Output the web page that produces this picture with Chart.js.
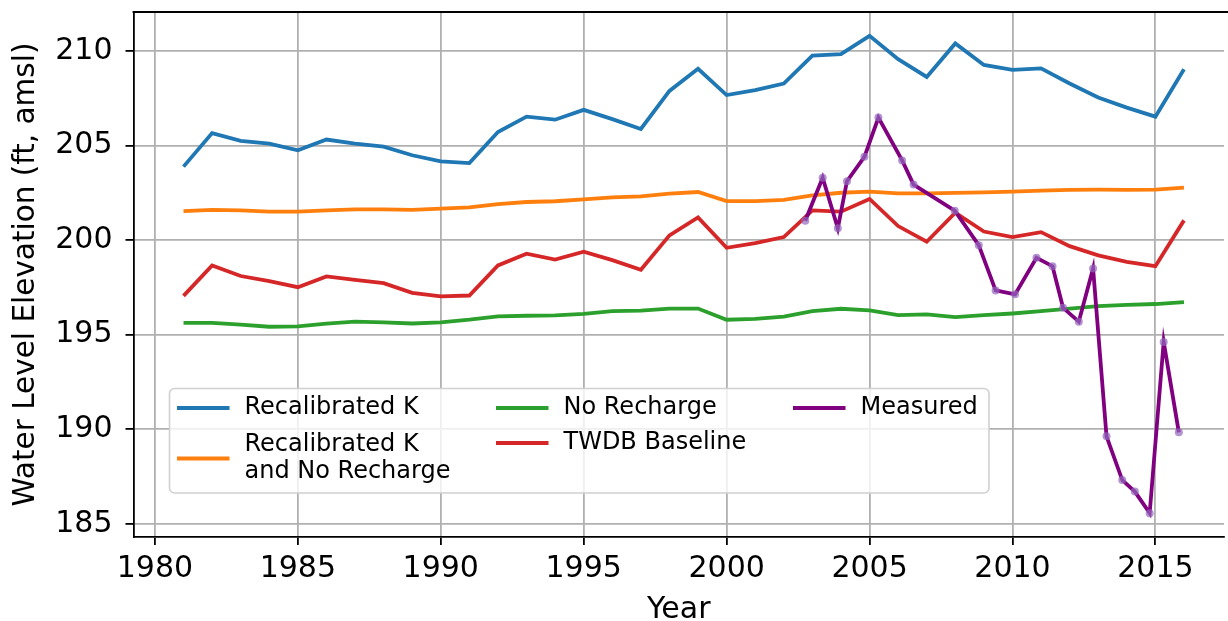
<!DOCTYPE html>
<html>
<head>
<meta charset="utf-8">
<script src="https://cdn.jsdelivr.net/npm/chart.js@4.4.1/dist/chart.umd.min.js"></script>
<style>
  html, body { margin: 0; padding: 0; background: #fff; }
  #chart { display: block; }
</style>
</head>
<body>
<canvas id="chart" width="1228" height="621"></canvas>
<script>
// model years
const years = [1981, 1982, 1983, 1984, 1985, 1986, 1987, 1988, 1989, 1990,
  1991, 1992, 1993, 1994, 1995, 1996, 1997, 1998, 1999, 2000,
  2001, 2002, 2003, 2004, 2005, 2006, 2007, 2008, 2009, 2010,
  2011, 2012, 2013, 2014, 2015, 2016];

const recalK = [203.88, 205.65, 205.24, 205.10, 204.74, 205.31, 205.10, 204.94, 204.48, 204.16,
  204.07, 205.71, 206.52, 206.36, 206.88, 206.39, 205.87, 207.88, 209.05, 207.66,
  207.92, 208.27, 209.74, 209.82, 210.79, 209.56, 208.62, 210.39, 209.25, 208.99,
  209.07, 208.27, 207.53, 207.00, 206.52, 209.03];

const recalKNoRecharge = [201.53, 201.59, 201.57, 201.50, 201.50, 201.57, 201.62, 201.62, 201.59, 201.66,
  201.73, 201.90, 202.01, 202.05, 202.15, 202.26, 202.31, 202.45, 202.54, 202.06,
  202.06, 202.12, 202.36, 202.50, 202.56, 202.47, 202.47, 202.49, 202.52, 202.56,
  202.61, 202.65, 202.66, 202.65, 202.66, 202.77];

const noRecharge = [195.62, 195.62, 195.53, 195.42, 195.44, 195.58, 195.69, 195.65, 195.59, 195.65,
  195.79, 195.97, 196.00, 196.02, 196.10, 196.25, 196.27, 196.38, 196.38, 195.79,
  195.83, 195.95, 196.24, 196.37, 196.28, 196.03, 196.07, 195.93, 196.03, 196.12,
  196.24, 196.38, 196.51, 196.58, 196.62, 196.72];

const twdbBaseline = [197.05, 198.66, 198.10, 197.83, 197.51, 198.08, 197.90, 197.72, 197.21, 197.02,
  197.07, 198.66, 199.28, 198.97, 199.38, 198.94, 198.43, 200.25, 201.20, 199.59,
  199.84, 200.16, 201.57, 201.50, 202.17, 200.74, 199.91, 201.45, 200.45, 200.16,
  200.42, 199.68, 199.19, 198.85, 198.62, 201.04];

// measured well levels (decimal year)
const measuredDates = [2002.75, 2003.36, 2003.89, 2004.21, 2004.82, 2005.31, 2006.14, 2006.54,
  2007.98, 2008.82, 2009.41, 2010.09, 2010.84, 2011.40, 2011.77, 2012.32, 2012.82,
  2013.29, 2013.84, 2014.28, 2014.80, 2015.29, 2015.82];
const measuredValues = [201.02, 203.29, 200.62, 203.11, 204.40, 206.47, 204.21, 202.93,
  201.55, 199.73, 197.34, 197.13, 199.06, 198.62, 196.42, 195.69, 198.50,
  189.63, 187.32, 186.71, 185.57, 194.62, 189.84];

const FONT = 'DejaVu Sans';

function toPoints(xs, ys) {
  return xs.map((x, i) => ({x: x, y: ys[i]}));
}

function lineSet(label, xs, ys, color, order) {
  return {
    label: label,
    data: toPoints(xs, ys),
    borderColor: color,
    backgroundColor: color,
    borderWidth: 3.8,
    pointRadius: 0,
    tension: 0,
    order: order
  };
}

const measured = lineSet('Measured', measuredDates, measuredValues, '#800080', 1);
measured.pointRadius = 4;
measured.pointBorderWidth = 0;
measured.pointBackgroundColor = 'rgba(148, 103, 189, 0.7)';

// legend slots: column and row centre, in draw order of the datasets
const legendCols = [177, 496, 793];
const legendSlots = [
  {col: 0, y: 408},
  {col: 0, y: 458.5},
  {col: 1, y: 408},
  {col: 1, y: 443},
  {col: 2, y: 408}
];

const legendBox = {
  id: 'legendBox',
  afterDraw(chart) {
    const ctx = chart.ctx;
    const area = chart.chartArea;

    // top spine
    ctx.save();
    ctx.strokeStyle = '#000';
    ctx.lineWidth = 1.8;
    ctx.beginPath();
    ctx.moveTo(area.left - 0.9, area.top);
    ctx.lineTo(chart.width, area.top);
    ctx.stroke();

    ctx.beginPath();
    ctx.roundRect(169.5, 388.5, 819.5, 104.5, 5);
    ctx.fillStyle = 'rgba(255, 255, 255, 0.8)';
    ctx.fill();
    ctx.strokeStyle = '#d0d0d0';
    ctx.lineWidth = 1.6;
    ctx.stroke();

    ctx.font = '24px "' + FONT + '"';
    ctx.textBaseline = 'middle';
    ctx.textAlign = 'left';
    chart.data.datasets.forEach((ds, i) => {
      const slot = legendSlots[i];
      const x0 = legendCols[slot.col];
      ctx.strokeStyle = ds.borderColor;
      ctx.lineWidth = 3.8;
      ctx.beginPath();
      ctx.moveTo(x0, slot.y);
      ctx.lineTo(x0 + 52.5, slot.y);
      ctx.stroke();

      const lines = ds.label.split('\n');
      const lh = 27.5;
      const y0 = slot.y - (lines.length - 1) * lh / 2;
      ctx.fillStyle = '#000';
      lines.forEach((t, k) => ctx.fillText(t, x0 + 67.5, y0 + k * lh));
    });
    ctx.restore();
  }
};

const chart = new Chart(document.getElementById('chart'), {
  type: 'line',
  data: {
    datasets: [
      lineSet('Recalibrated K', years, recalK, '#1f77b4', 5),
      lineSet('Recalibrated K\nand No Recharge', years, recalKNoRecharge, '#ff7f0e', 4),
      lineSet('No Recharge', years, noRecharge, '#2ca02c', 3),
      lineSet('TWDB Baseline', years, twdbBaseline, '#d62728', 2),
      measured
    ]
  },
  options: {
    responsive: false,
    animation: false,
    devicePixelRatio: 1,
    layout: {padding: {top: 12, left: 0, right: -6, bottom: 0}},
    plugins: {
      legend: {display: false},
      tooltip: {enabled: false}
    },
    scales: {
      x: {
        type: 'linear',
        min: 1979.25,
        max: 2017.4,
        afterFit: (scale) => {
          scale.height = 84;
          scale.paddingLeft = 0;
          scale.paddingRight = 0;
        },
        border: {display: true, color: '#000', width: 1.8},
        grid: {color: '#b0b0b0', lineWidth: 1.8, tickColor: '#000', tickWidth: 1.8, tickLength: 8},
        ticks: {
          stepSize: 5,
          includeBounds: false,
          color: '#000',
          padding: 6,
          maxRotation: 0,
          font: {family: FONT, size: 30},
          callback: (v) => String(v)
        },
        title: {
          display: true,
          text: 'Year',
          color: '#000',
          padding: {top: 0, bottom: 0},
          font: {family: FONT, size: 30, lineHeight: 0.75}
        }
      },
      y: {
        min: 184.31,
        max: 212.05,
        afterFit: (scale) => {
          scale.width = 133.5;
          scale.paddingTop = 0;
          scale.paddingBottom = 0;
        },
        border: {display: true, color: '#000', width: 1.8},
        grid: {color: '#b0b0b0', lineWidth: 1.8, tickColor: '#000', tickWidth: 1.8, tickLength: 8},
        ticks: {
          stepSize: 5,
          includeBounds: false,
          color: '#000',
          padding: 13,
          font: {family: FONT, size: 30}
        },
        title: {
          display: true,
          text: 'Water Level Elevation (ft, amsl)',
          color: '#000',
          padding: {top: 9, bottom: 0},
          font: {family: FONT, size: 29.5, lineHeight: 1.2}
        }
      }
    }
  },
  plugins: [legendBox]
});
</script>
</body>
</html>
